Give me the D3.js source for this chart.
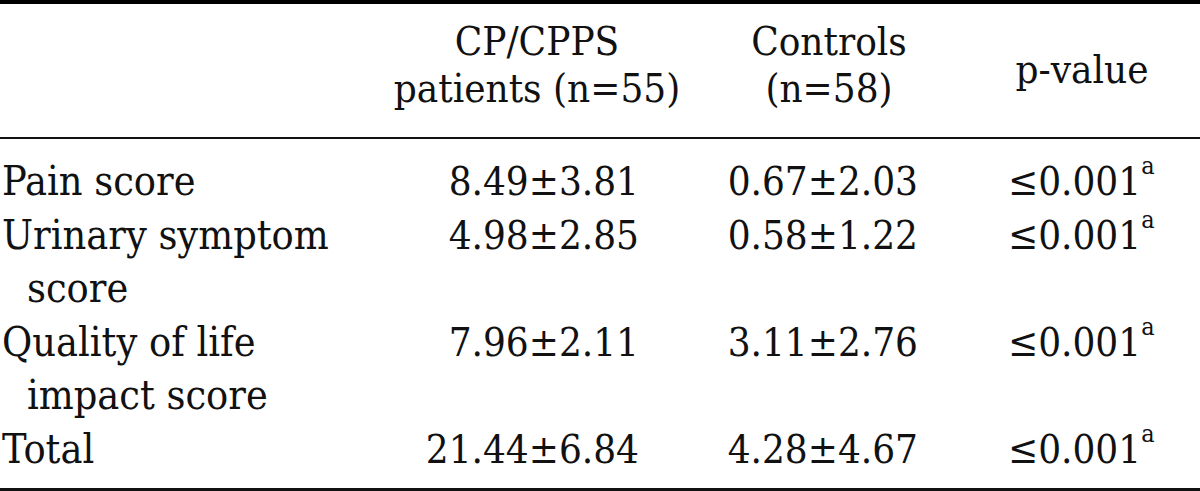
<!DOCTYPE html>
<html><head><meta charset="utf-8">
<script src="https://cdn.jsdelivr.net/npm/d3@7"></script>
<style>
html,body{margin:0;padding:0;background:#fff;}
svg{display:block;}
text{font-family:"DejaVu Serif Condensed","DejaVu Serif",serif;font-stretch:condensed;fill:#111;}
</style></head><body>
<svg id="chart" width="1200" height="491"></svg>
<script>
// ---- data ----
const headerPatients = ["CP/CPPS", "patients (n=55)"];
const headerControls = ["Controls", "(n=58)"];
const headerP = ["p-value"];
const rowLabels = [["Pain score"], ["Urinary symptom", "score"], ["Quality of life", "impact score"], ["Total"]];
const patients = ["8.49±3.81", "4.98±2.85", "7.96±2.11", "21.44±6.84"];
const controls = ["0.67±2.03", "0.58±1.22", "3.11±2.76", "4.28±4.67"];
const pValues = ["≤0.001", "≤0.001", "≤0.001", "≤0.001"];
const pSup = ["a", "a", "a", "a"];

const W = 1200, H = 491;
const svg = d3.select("#chart");
const fs = 41, fsHead = 40, fsNum = 40;

// line index -> baseline y for body
const yLine = d3.scaleLinear().domain([0, 5]).range([195, 463]);
// header lines
const yHead = d3.scaleLinear().domain([0, 1]).range([55, 102]);

// column x positions
const colX = {label: 2, indent: 27, patRight: 639, patCenter: 537, conRight: 918, conCenter: 829, pLeft: 1008, pCenter: 1082};

// rules
svg.append("line").attr("x1", 0).attr("x2", W).attr("y1", 2).attr("y2", 2).attr("stroke", "#000").attr("stroke-width", 4);
svg.append("line").attr("x1", 0).attr("x2", W).attr("y1", 138).attr("y2", 138).attr("stroke", "#111").attr("stroke-width", 2);
svg.append("line").attr("x1", 0).attr("x2", W).attr("y1", 489.5).attr("y2", 489.5).attr("stroke", "#111").attr("stroke-width", 3);

// headers
function header(lines, cx, cls) {
  svg.selectAll("text." + cls).data(lines).join("text").attr("class", cls)
    .attr("x", cx).attr("y", (d, i) => yHead(i)).attr("text-anchor", "middle")
    .attr("font-size", fsHead).text(d => d);
}
header(headerPatients, colX.patCenter, "hpat");
header(headerControls, colX.conCenter, "hcon");
svg.selectAll("text.hpv").data(headerP).join("text").attr("class", "hpv")
  .attr("x", colX.pCenter).attr("y", 83).attr("text-anchor", "middle")
  .attr("font-size", fsHead).text(d => d);

// compute starting line index per row
let idx = 0;
const rowStart = rowLabels.map(r => { const s = idx; idx += r.length; return s; });

// labels
rowLabels.forEach((lines, r) => {
  lines.forEach((t, j) => {
    svg.append("text").attr("x", j === 0 ? colX.label : colX.indent)
      .attr("y", yLine(rowStart[r] + j)).attr("font-size", fs).text(t);
  });
});

// values
svg.selectAll("text.pat").data(patients).join("text").attr("class", "pat")
  .attr("x", colX.patRight).attr("y", (d, i) => yLine(rowStart[i])).attr("text-anchor", "end")
  .attr("font-size", fsNum).text(d => d);
svg.selectAll("text.con").data(controls).join("text").attr("class", "con")
  .attr("x", colX.conRight).attr("y", (d, i) => yLine(rowStart[i])).attr("text-anchor", "end")
  .attr("font-size", fsNum).text(d => d);
const pv = svg.selectAll("text.pv").data(pValues).join("text").attr("class", "pv")
  .attr("x", colX.pLeft).attr("y", (d, i) => yLine(rowStart[i])).attr("font-size", fsNum);
pv.append("tspan").text(d => d);
pv.append("tspan").attr("font-size", 25).attr("dy", -21).text((d, i) => pSup[i]);
</script>
</body></html>
